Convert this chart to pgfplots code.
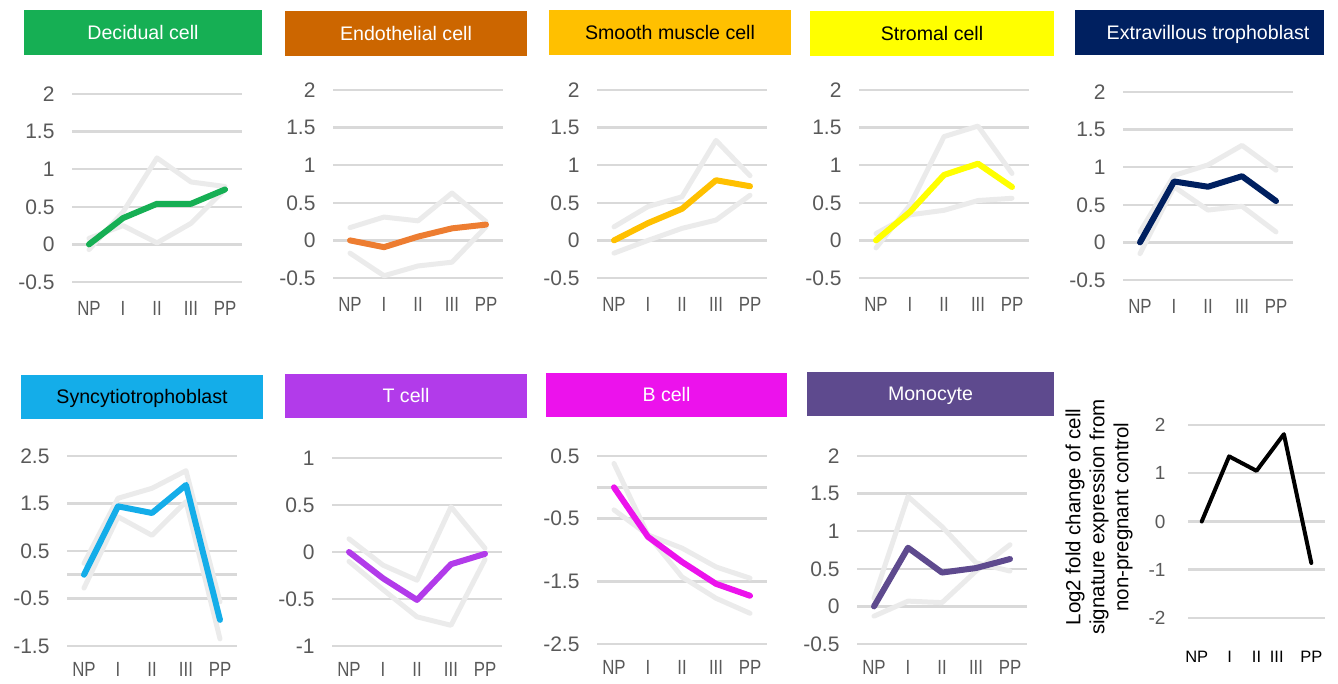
\documentclass[border=0pt]{standalone}
\usepackage{fontspec}
\setmainfont{Liberation Sans}
\newfontfamily\narrowfont[FakeStretch=0.82]{Liberation Sans}
\usepackage{pgfplots}
\pgfplotsset{compat=1.18}

\definecolor{gridc}{HTML}{D9D9D9}
\definecolor{ghost}{HTML}{EBEBEB}
\definecolor{tickc}{HTML}{595959}
\definecolor{cDec}{HTML}{16AF54}
\definecolor{cEndoBox}{HTML}{CC6600}
\definecolor{cEndo}{HTML}{ED7D31}
\definecolor{cSmooth}{HTML}{FFC000}
\definecolor{cStrom}{HTML}{FFFF00}
\definecolor{cEVT}{HTML}{002060}
\definecolor{cSyn}{HTML}{14ADE9}
\definecolor{cT}{HTML}{B23BEA}
\definecolor{cB}{HTML}{EC12EC}
\definecolor{cMono}{HTML}{5E4A8E}

\pgfplotsset{
  panel/.style={
    scale only axis, width=170pt, height=188pt,
    xmin=-0.5, xmax=4.5,
    axis line style={draw=none},
    tick style={draw=none},
    major tick length=0pt,
    ymajorgrids, grid style={gridc, line width=2.5pt},
    xtick={0,1,2,3,4}, xticklabels={NP,I,II,III,PP},
    xticklabel style={font=\narrowfont\fontsize{20.5}{20.5}\selectfont, text=tickc, yshift=-16pt},
    yticklabel style={font=\fontsize{21}{21}\selectfont, text=tickc, xshift=-14pt},
    /pgf/number format/assume math mode=true,
    clip=false,
    anchor=north west,
  },
  bottomrow/.style={xticklabel style={yshift=3.5pt}},
  ghostline/.style={ghost, line width=5pt, line join=round, line cap=round},
  mainline/.style={line width=6pt, line join=round, line cap=round},
}

\newcommand\titlefont{\fontsize{19.6}{19.6}\selectfont}

\begin{document}
\begin{tikzpicture}
\path[use as bounding box] (0,0) rectangle (1338pt,684pt);

% ---------- title boxes ----------
\fill[cDec] (24pt,629pt) rectangle (262pt,674pt);
\node[anchor=base, text=white, font=\titlefont, inner sep=0pt] at (143pt,644.5pt) {Decidual cell};
\fill[cEndoBox] (285pt,628pt) rectangle (527pt,673pt);
\node[anchor=base, text=white, font=\titlefont, inner sep=0pt] at (406pt,643.5pt) {Endothelial cell};
\fill[cSmooth] (549pt,629pt) rectangle (791pt,674pt);
\node[anchor=base, text=black, font=\titlefont, inner sep=0pt] at (670pt,644.5pt) {Smooth muscle cell};
\fill[cStrom] (810pt,628pt) rectangle (1054pt,673pt);
\node[anchor=base, text=black, font=\titlefont, inner sep=0pt] at (932pt,643.5pt) {Stromal cell};
\fill[cEVT] (1075pt,629pt) rectangle (1324pt,674pt);
\node[anchor=base, text=white, font=\titlefont, inner sep=0pt] at (1208pt,644.5pt) {Extravillous trophoblast};

\fill[cSyn] (21pt,265pt) rectangle (263pt,309pt);
\node[anchor=base, text=black, font=\titlefont, inner sep=0pt] at (142pt,280pt) {Syncytiotrophoblast};
\fill[cT] (285pt,266pt) rectangle (527pt,310pt);
\node[anchor=base, text=white, font=\titlefont, inner sep=0pt] at (406pt,281pt) {T cell};
\fill[cB] (546pt,267pt) rectangle (787pt,311pt);
\node[anchor=base, text=white, font=\titlefont, inner sep=0pt] at (666.5pt,282pt) {B cell};
\fill[cMono] (807pt,268pt) rectangle (1054pt,312pt);
\node[anchor=base, text=white, font=\titlefont, inner sep=0pt] at (930.5pt,283pt) {Monocyte};

% ---------- Decidual ----------
\begin{axis}[panel, at={(72pt,590pt)}, ymin=-0.5, ymax=2, ytick={-0.5,0,0.5,1,1.5,2}]
\addplot[ghostline] coordinates {(0,-0.07) (1,0.43) (2,1.15) (3,0.83) (4,0.77)};
\addplot[ghostline] coordinates {(0,0.08) (1,0.25) (2,0.02) (3,0.28) (4,0.73)};
\addplot[mainline, cDec] coordinates {(0,0) (1,0.35) (2,0.54) (3,0.54) (4,0.73)};
\end{axis}

% ---------- Endothelial ----------
\begin{axis}[panel, at={(333pt,594pt)}, ymin=-0.5, ymax=2, ytick={-0.5,0,0.5,1,1.5,2}]
\addplot[ghostline] coordinates {(0,0.17) (1,0.31) (2,0.26) (3,0.63) (4,0.25)};
\addplot[ghostline] coordinates {(0,-0.17) (1,-0.47) (2,-0.34) (3,-0.29) (4,0.18)};
\addplot[mainline, cEndo] coordinates {(0,0) (1,-0.09) (2,0.05) (3,0.16) (4,0.21)};
\end{axis}

% ---------- Smooth muscle ----------
\begin{axis}[panel, at={(597pt,594pt)}, ymin=-0.5, ymax=2, ytick={-0.5,0,0.5,1,1.5,2}]
\addplot[ghostline] coordinates {(0,0.18) (1,0.45) (2,0.58) (3,1.33) (4,0.86)};
\addplot[ghostline] coordinates {(0,-0.17) (1,0.0) (2,0.16) (3,0.27) (4,0.6)};
\addplot[mainline, cSmooth] coordinates {(0,0) (1,0.23) (2,0.42) (3,0.8) (4,0.72)};
\end{axis}

% ---------- Stromal ----------
\begin{axis}[panel, at={(859pt,594pt)}, ymin=-0.5, ymax=2, ytick={-0.5,0,0.5,1,1.5,2}]
\addplot[ghostline] coordinates {(0,-0.1) (1,0.47) (2,1.38) (3,1.52) (4,0.89)};
\addplot[ghostline] coordinates {(0,0.09) (1,0.34) (2,0.4) (3,0.53) (4,0.56)};
\addplot[mainline, cStrom] coordinates {(0,0) (1,0.38) (2,0.87) (3,1.02) (4,0.71)};
\end{axis}

% ---------- Extravillous trophoblast ----------
\begin{axis}[panel, at={(1123pt,592pt)}, ymin=-0.5, ymax=2, ytick={-0.5,0,0.5,1,1.5,2}]
\addplot[ghostline] coordinates {(0,0.14) (1,0.89) (2,1.03) (3,1.29) (4,0.96)};
\addplot[ghostline] coordinates {(0,-0.15) (1,0.74) (2,0.43) (3,0.48) (4,0.14)};
\addplot[mainline, cEVT] coordinates {(0,0) (1,0.81) (2,0.74) (3,0.88) (4,0.55)};
\end{axis}

% ---------- Syncytiotrophoblast ----------
\begin{axis}[panel, bottomrow, at={(67pt,228pt)}, height=190pt, ymin=-1.5, ymax=2.5,
  ytick={-1.5,-0.5,0,0.5,1.5,2.5}, yticklabels={-1.5,-0.5,,0.5,1.5,2.5}]
\addplot[ghostline] coordinates {(0,0.24) (1,1.61) (2,1.82) (3,2.19) (4,-0.57)};
\addplot[ghostline] coordinates {(0,-0.28) (1,1.22) (2,0.83) (3,1.54) (4,-1.35)};
\addplot[mainline, cSyn] coordinates {(0,0) (1,1.44) (2,1.3) (3,1.89) (4,-0.95)};
\end{axis}

% ---------- T cell ----------
\begin{axis}[panel, bottomrow, at={(332pt,226pt)}, ymin=-1, ymax=1, ytick={-1,-0.5,0,0.5,1}]
\addplot[ghostline] coordinates {(0,0.14) (1,-0.14) (2,-0.3) (3,0.48) (4,0.04)};
\addplot[ghostline] coordinates {(0,-0.1) (1,-0.4) (2,-0.69) (3,-0.78) (4,-0.08)};
\addplot[mainline, cT] coordinates {(0,0) (1,-0.28) (2,-0.51) (3,-0.13) (4,-0.02)};
\end{axis}

% ---------- B cell ----------
\begin{axis}[panel, bottomrow, at={(597pt,228pt)}, ymin=-2.5, ymax=0.5,
  ytick={-2.5,-1.5,-0.5,0,0.5}, yticklabels={-2.5,-1.5,-0.5,,0.5}]
\addplot[ghostline] coordinates {(0,0.38) (1,-0.76) (2,-0.97) (3,-1.27) (4,-1.45)};
\addplot[ghostline] coordinates {(0,-0.36) (1,-0.76) (2,-1.43) (3,-1.77) (4,-2.01)};
\addplot[mainline, cB] coordinates {(0,0) (1,-0.79) (2,-1.19) (3,-1.54) (4,-1.73)};
\end{axis}

% ---------- Monocyte ----------
\begin{axis}[panel, bottomrow, at={(857pt,228pt)}, ymin=-0.5, ymax=2, ytick={-0.5,0,0.5,1,1.5,2}]
\addplot[ghostline] coordinates {(0,0.11) (1,1.46) (2,1.06) (3,0.58) (4,0.47)};
\addplot[ghostline] coordinates {(0,-0.13) (1,0.07) (2,0.05) (3,0.47) (4,0.82)};
\addplot[mainline, cMono] coordinates {(0,0) (1,0.78) (2,0.45) (3,0.51) (4,0.63)};
\end{axis}

% ---------- Key panel ----------
\begin{axis}[panel, at={(1188pt,259pt)}, width=137pt, height=193pt,
  ymin=-2, ymax=2, ytick={-2,-1,0,1,2},
  xtick={-0.18,1.02,2.0,2.74,4.0}, xticklabels={NP,I,II,III,PP},
  xticklabel style={font=\fontsize{16.5}{16.5}\selectfont, text=black, yshift=-14pt},
  yticklabel style={font=\fontsize{19}{19}\selectfont, text=tickc, xshift=-5pt}]
\addplot[black, line width=4pt, line join=round, line cap=round]
  coordinates {(0,0) (1,1.35) (2,1.05) (3,1.81) (4,-0.86)};
\end{axis}
\node[rotate=90, align=center, font=\fontsize{20.5}{24}\selectfont] at (1099pt,167pt)
  {Log2 fold change of cell\\signature expression from\\non-pregnant control};
\end{tikzpicture}
\end{document}
